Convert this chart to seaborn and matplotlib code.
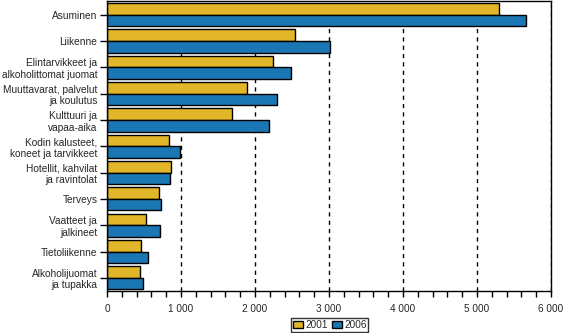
import matplotlib
matplotlib.use("Agg")
import matplotlib.pyplot as plt
import matplotlib.ticker as mticker
import seaborn as sns
import pandas as pd

categories = [
    "Asuminen",
    "Liikenne",
    "Elintarvikkeet ja\nalkoholittomat juomat",
    "Muuttavarat, palvelut\nja koulutus",
    "Kulttuuri ja\nvapaa-aika",
    "Kodin kalusteet,\nkoneet ja tarvikkeet",
    "Hotellit, kahvilat\nja ravintolat",
    "Terveys",
    "Vaatteet ja\njalkineet",
    "Tietoliikenne",
    "Alkoholijuomat\nja tupakka",
]
values_2001 = [5300, 2540, 2240, 1890, 1690, 840, 870, 700, 530, 465, 450]
values_2006 = [5660, 3010, 2490, 2300, 2195, 985, 845, 735, 720, 560, 490]
years = ["2001", "2006"]
colors = ["#E2B629", "#1A77B4"]

df = pd.DataFrame({
    "category": categories * 2,
    "value": values_2001 + values_2006,
    "year": [years[0]] * len(categories) + [years[1]] * len(categories),
})

sns.set_style("white")
plt.rcParams["font.family"] = ["Liberation Sans", "DejaVu Sans"]
plt.rcParams["font.size"] = 7

fig = plt.figure(figsize=(5.64, 3.33), dpi=100)
ax = fig.add_axes([0.1897, 0.1261, 0.977 - 0.1897, 0.9955 - 0.1261])

sns.barplot(data=df, y="category", x="value", hue="year", palette=colors,
            orient="h", width=0.88, edgecolor="black", linewidth=1.0,
            saturation=1, ax=ax, legend=True)

ax.set_xlim(0, 6000)
ax.set_ylim(len(categories) - 0.5, -0.5)
ax.set_xlabel("")
ax.set_ylabel("")

ax.xaxis.set_major_locator(mticker.MultipleLocator(1000))
ax.xaxis.set_minor_locator(mticker.MultipleLocator(200))
ax.xaxis.set_major_formatter(mticker.FuncFormatter(
    lambda v, p: f"{int(v):,}".replace(",", " ")))
ax.tick_params(axis="x", which="both", direction="out", length=4, width=1,
               color="black", pad=5, labelsize=7.2, bottom=True)
ax.tick_params(axis="y", which="major", direction="out", length=5, width=1,
               color="black", pad=2, labelsize=7.3, left=True)
for lab in ax.get_yticklabels():
    lab.set_horizontalalignment("right")
    lab.set_multialignment("right")

ax.grid(axis="x", which="major", color="black", linestyle=(0, (3, 3)),
        linewidth=1)
ax.grid(axis="y", visible=False)
ax.set_axisbelow(True)
for s in ax.spines.values():
    s.set_visible(True)
    s.set_color("black")
    s.set_linewidth(1)

handles, labels = ax.get_legend_handles_labels()
ax.legend_.remove()
leg = fig.legend(handles, labels, loc="center", bbox_to_anchor=(0.585, 0.025),
                 ncol=2, frameon=True, fancybox=False, fontsize=7.2,
                 handlelength=1.0, handleheight=0.7, handletextpad=0.2,
                 columnspacing=0.4, borderpad=0.2, borderaxespad=0)
leg.get_frame().set_edgecolor("black")
leg.get_frame().set_linewidth(1)

fig.savefig("out.png", dpi=100)
